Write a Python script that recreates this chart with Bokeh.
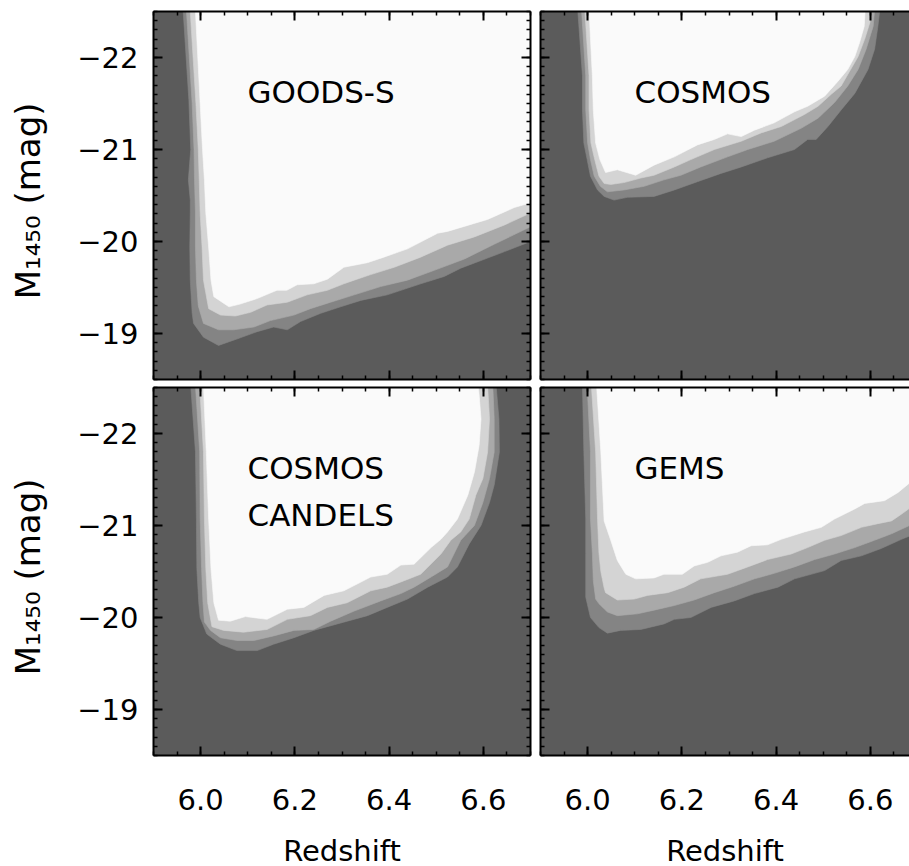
from bokeh.plotting import figure
from bokeh.models import Range1d, FixedTicker, LinearAxis, Label
from bokeh.layouts import row, column
from bokeh.embed import file_html
from bokeh.resources import INLINE

# ---------------- data: completeness contour boundaries (redshift z, M1450) ----------------
# level 1 = outermost (dark | gray), level 4 = innermost (light gray | white)
GOODS_S_Z1 = [5.963, 5.975, 5.979, 5.974, 5.978, 5.978, 5.977, 5.978, 5.982, 5.985, 6.006, 6.038, 6.077, 6.120, 6.155, 6.184, 6.212, 6.255, 6.297, 6.340, 6.396, 6.467, 6.517, 6.552, 6.609, 6.645, 6.700]
GOODS_S_M1 = [-22.50, -21.54, -21.00, -20.67, -20.45, -20.31, -19.94, -19.58, -19.22, -19.11, -18.96, -18.87, -18.94, -19.02, -19.07, -19.04, -19.13, -19.22, -19.29, -19.36, -19.42, -19.54, -19.62, -19.71, -19.82, -19.89, -20.00]
GOODS_S_Z2 = [5.970, 5.982, 5.986, 5.987, 5.989, 5.989, 5.991, 5.995, 6.006, 6.038, 6.070, 6.113, 6.148, 6.198, 6.233, 6.276, 6.326, 6.382, 6.439, 6.503, 6.560, 6.623, 6.700]
GOODS_S_M2 = [-22.50, -21.50, -21.00, -20.67, -20.31, -19.94, -19.58, -19.30, -19.11, -19.04, -19.04, -19.07, -19.14, -19.20, -19.27, -19.34, -19.42, -19.51, -19.58, -19.70, -19.81, -19.97, -20.16]
GOODS_S_Z3 = [5.978, 5.990, 5.995, 5.997, 5.999, 6.003, 6.006, 6.017, 6.042, 6.074, 6.106, 6.141, 6.184, 6.226, 6.269, 6.304, 6.326, 6.361, 6.411, 6.467, 6.524, 6.581, 6.645, 6.700]
GOODS_S_M3 = [-22.50, -21.50, -21.00, -20.67, -20.31, -19.94, -19.58, -19.27, -19.20, -19.19, -19.23, -19.31, -19.34, -19.42, -19.47, -19.54, -19.58, -19.64, -19.72, -19.83, -19.96, -20.05, -20.18, -20.31]
GOODS_S_Z4 = [5.989, 5.999, 6.004, 6.008, 6.011, 6.017, 6.022, 6.028, 6.060, 6.084, 6.120, 6.162, 6.183, 6.205, 6.240, 6.269, 6.304, 6.354, 6.389, 6.439, 6.503, 6.524, 6.609, 6.666, 6.700]
GOODS_S_M4 = [-22.50, -21.50, -21.00, -20.67, -20.31, -19.94, -19.58, -19.40, -19.29, -19.32, -19.38, -19.47, -19.47, -19.53, -19.54, -19.59, -19.72, -19.77, -19.83, -19.92, -20.09, -20.11, -20.24, -20.37, -20.42]

COSMOS_Z1 = [5.979, 5.989, 5.989, 5.992, 5.999, 6.006, 6.021, 6.035, 6.056, 6.084, 6.141, 6.184, 6.233, 6.283, 6.326, 6.382, 6.439, 6.467, 6.485, 6.510, 6.538, 6.567, 6.595, 6.609, 6.616, 6.620]
COSMOS_M1 = [-22.52, -21.80, -21.43, -21.07, -20.89, -20.71, -20.56, -20.49, -20.45, -20.48, -20.49, -20.56, -20.65, -20.74, -20.81, -20.91, -21.00, -21.11, -21.11, -21.25, -21.43, -21.61, -21.87, -22.09, -22.34, -22.52]
COSMOS_Z2 = [5.987, 5.996, 5.996, 6.000, 6.006, 6.014, 6.027, 6.042, 6.077, 6.120, 6.162, 6.198, 6.240, 6.297, 6.340, 6.396, 6.453, 6.489, 6.524, 6.552, 6.574, 6.591, 6.606, 6.609]
COSMOS_M2 = [-22.52, -21.80, -21.43, -21.07, -20.89, -20.71, -20.60, -20.54, -20.56, -20.60, -20.67, -20.72, -20.81, -20.92, -21.00, -21.09, -21.23, -21.34, -21.51, -21.69, -21.87, -22.09, -22.34, -22.52]
COSMOS_Z3 = [5.994, 6.003, 6.003, 6.007, 6.015, 6.024, 6.035, 6.049, 6.077, 6.113, 6.141, 6.184, 6.219, 6.269, 6.326, 6.368, 6.411, 6.460, 6.489, 6.517, 6.538, 6.556, 6.574, 6.588, 6.599, 6.602]
COSMOS_M3 = [-22.52, -21.80, -21.43, -21.07, -20.89, -20.71, -20.63, -20.62, -20.64, -20.69, -20.72, -20.81, -20.89, -21.00, -21.09, -21.18, -21.25, -21.38, -21.47, -21.60, -21.69, -21.85, -22.01, -22.20, -22.38, -22.52]
COSMOS_Z4 = [6.003, 6.010, 6.012, 6.017, 6.026, 6.038, 6.063, 6.102, 6.141, 6.184, 6.233, 6.269, 6.297, 6.326, 6.354, 6.396, 6.439, 6.467, 6.503, 6.531, 6.552, 6.567, 6.577, 6.587, 6.589]
COSMOS_M4 = [-22.52, -21.80, -21.43, -21.07, -20.89, -20.75, -20.78, -20.72, -20.83, -20.92, -21.05, -21.11, -21.17, -21.14, -21.21, -21.29, -21.41, -21.47, -21.58, -21.74, -21.87, -22.01, -22.16, -22.34, -22.52]

CANDELS_Z1 = [5.979, 5.989, 5.991, 5.992, 5.996, 5.999, 6.013, 6.042, 6.077, 6.120, 6.155, 6.198, 6.240, 6.290, 6.354, 6.396, 6.439, 6.482, 6.524, 6.545, 6.570, 6.595, 6.613, 6.623, 6.634, 6.633, 6.627]
CANDELS_M1 = [-22.52, -21.80, -21.07, -20.53, -20.16, -20.00, -19.82, -19.71, -19.64, -19.64, -19.71, -19.78, -19.86, -19.93, -20.02, -20.11, -20.20, -20.33, -20.44, -20.55, -20.80, -21.00, -21.25, -21.44, -21.80, -22.16, -22.52]
CANDELS_Z2 = [5.989, 5.998, 5.999, 6.002, 6.005, 6.008, 6.021, 6.042, 6.077, 6.113, 6.155, 6.198, 6.240, 6.276, 6.326, 6.382, 6.425, 6.453, 6.489, 6.524, 6.552, 6.581, 6.599, 6.613, 6.623, 6.623, 6.620]
CANDELS_M2 = [-22.52, -21.80, -21.07, -20.53, -20.16, -19.95, -19.86, -19.78, -19.75, -19.75, -19.80, -19.86, -19.87, -19.96, -20.07, -20.18, -20.26, -20.33, -20.44, -20.55, -20.84, -21.00, -21.25, -21.51, -21.80, -22.16, -22.52]
CANDELS_Z3 = [5.998, 6.006, 6.008, 6.011, 6.015, 6.024, 6.049, 6.091, 6.141, 6.184, 6.233, 6.269, 6.311, 6.361, 6.396, 6.432, 6.467, 6.510, 6.531, 6.552, 6.570, 6.584, 6.599, 6.609, 6.613, 6.609]
CANDELS_M3 = [-22.52, -21.80, -21.07, -20.53, -20.16, -19.90, -19.86, -19.84, -19.87, -19.98, -20.02, -20.11, -20.16, -20.29, -20.33, -20.40, -20.47, -20.69, -20.84, -20.93, -21.07, -21.33, -21.51, -21.80, -22.16, -22.52]
CANDELS_Z4 = [6.006, 6.012, 6.017, 6.022, 6.028, 6.038, 6.063, 6.095, 6.141, 6.184, 6.219, 6.262, 6.304, 6.361, 6.396, 6.425, 6.453, 6.489, 6.510, 6.524, 6.545, 6.567, 6.581, 6.591, 6.595, 6.591, 6.589]
CANDELS_M4 = [-22.52, -21.80, -21.07, -20.53, -20.16, -19.97, -19.96, -20.01, -19.98, -20.09, -20.11, -20.24, -20.29, -20.44, -20.47, -20.57, -20.58, -20.76, -20.85, -20.93, -21.07, -21.33, -21.58, -21.87, -22.16, -22.42, -22.52]

GEMS_Z1 = [5.989, 5.992, 5.996, 5.996, 5.996, 6.006, 6.024, 6.042, 6.070, 6.113, 6.162, 6.184, 6.219, 6.262, 6.311, 6.354, 6.404, 6.439, 6.503, 6.538, 6.581, 6.623, 6.666, 6.700]
GEMS_M1 = [-22.52, -21.80, -21.07, -20.70, -20.22, -20.00, -19.89, -19.83, -19.86, -19.87, -19.93, -19.98, -20.00, -20.11, -20.18, -20.26, -20.33, -20.42, -20.51, -20.62, -20.67, -20.75, -20.85, -20.92]
GEMS_Z2 = [5.999, 6.006, 6.006, 6.010, 6.012, 6.017, 6.024, 6.042, 6.063, 6.106, 6.141, 6.184, 6.226, 6.269, 6.311, 6.354, 6.396, 6.439, 6.482, 6.524, 6.567, 6.609, 6.645, 6.700]
GEMS_M2 = [-22.52, -21.80, -21.07, -20.70, -20.40, -20.20, -20.15, -20.06, -20.02, -20.04, -20.08, -20.13, -20.19, -20.27, -20.34, -20.42, -20.48, -20.55, -20.63, -20.69, -20.76, -20.84, -20.91, -21.04]
GEMS_Z3 = [6.008, 6.017, 6.021, 6.024, 6.028, 6.035, 6.038, 6.063, 6.099, 6.127, 6.170, 6.205, 6.240, 6.297, 6.340, 6.382, 6.432, 6.467, 6.503, 6.538, 6.581, 6.616, 6.645, 6.665, 6.700]
GEMS_M3 = [-22.52, -21.80, -21.07, -20.70, -20.50, -20.32, -20.27, -20.19, -20.20, -20.24, -20.27, -20.33, -20.42, -20.47, -20.55, -20.63, -20.69, -20.76, -20.84, -20.89, -20.98, -21.02, -21.05, -21.12, -21.25]
GEMS_Z4 = [6.019, 6.028, 6.035, 6.049, 6.063, 6.081, 6.102, 6.141, 6.162, 6.201, 6.226, 6.255, 6.283, 6.318, 6.347, 6.382, 6.411, 6.460, 6.496, 6.524, 6.567, 6.588, 6.630, 6.659, 6.685, 6.700]
GEMS_M4 = [-22.52, -21.80, -21.05, -20.84, -20.62, -20.47, -20.42, -20.43, -20.47, -20.47, -20.56, -20.60, -20.67, -20.71, -20.78, -20.79, -20.85, -20.93, -20.98, -21.07, -21.18, -21.24, -21.27, -21.36, -21.47, -21.52]

PANEL_LINES = [["GOODS-S"], ["COSMOS"], ["COSMOS", "CANDELS"], ["GEMS"]]
X_TICKS = [6.0, 6.2, 6.4, 6.6]
X_TICK_LABELS = ["6.0", "6.2", "6.4", "6.6"]
Y_TICKS = [-22, -21, -20, -19]
Y_TICK_LABELS = ["\u221222", "\u221221", "\u221220", "\u221219"]
X_LABEL = "Redshift"
Y_LABEL = "M\u2081\u2084\u2085\u2080  (mag)"

PANELS = [
    [(GOODS_S_Z1, GOODS_S_M1), (GOODS_S_Z2, GOODS_S_M2), (GOODS_S_Z3, GOODS_S_M3), (GOODS_S_Z4, GOODS_S_M4)],
    [(COSMOS_Z1, COSMOS_M1), (COSMOS_Z2, COSMOS_M2), (COSMOS_Z3, COSMOS_M3), (COSMOS_Z4, COSMOS_M4)],
    [(CANDELS_Z1, CANDELS_M1), (CANDELS_Z2, CANDELS_M2), (CANDELS_Z3, CANDELS_M3), (CANDELS_Z4, CANDELS_M4)],
    [(GEMS_Z1, GEMS_M1), (GEMS_Z2, GEMS_M2), (GEMS_Z3, GEMS_M3), (GEMS_Z4, GEMS_M4)],
]

# ---------------- style ----------------
FONT = "DejaVu Sans"
BG = "#5b5b5b"
BAND_COLORS = ["#848484", "#a9a9a9", "#d4d4d4", "#fafafa"]
X_START = 5.9
PX_PER_Z = 471.25
FRAME_H = 368
Y_BOTTOM, Y_TOP = -18.5, -22.5
X_MINOR = [round(5.9 + 0.05 * i, 3) for i in range(17)]
Y_MINOR = [round(-22.5 + 0.1 * i, 2) for i in range(41)]


def closed_polygon(zs, ms):
    xs = [zs[0]] + list(zs)
    ys = [-23.0] + list(ms)
    if ms[-1] <= -22.4:
        xs += [zs[-1]]
        ys += [-23.0]
    else:
        xs += [7.0, 7.0]
        ys += [ms[-1], -23.0]
    return xs, ys


def style_axis(ax, ticks, minor, labels, show_labels, title=None):
    ax.ticker = FixedTicker(ticks=ticks, minor_ticks=minor)
    ax.axis_line_color = "black"
    ax.axis_line_width = 2
    ax.major_tick_in = 9
    ax.major_tick_out = 0
    ax.minor_tick_in = 4
    ax.minor_tick_out = 0
    ax.major_tick_line_color = "black"
    ax.major_tick_line_width = 2
    ax.minor_tick_line_color = "black"
    ax.minor_tick_line_width = 1.5
    if show_labels:
        ax.major_label_overrides = {t: l for t, l in zip(ticks, labels)}
        ax.major_label_text_font = FONT
        ax.major_label_text_font_size = "29px"
        ax.major_label_text_color = "black"
    else:
        ax.major_label_text_font_size = "0px"
        ax.major_label_text_color = None
        ax.major_label_text_alpha = 0
        ax.major_label_standoff = 0
    if title:
        ax.axis_label = title
        ax.axis_label_text_font = FONT
        ax.axis_label_text_font_style = "normal"
        ax.axis_label_text_color = "black"


def make_panel(idx):
    col = idx % 2
    rw = idx // 2
    left_col = col == 0
    bottom_row = rw == 1
    fw = 377 if left_col else 369
    p = figure(frame_width=fw, frame_height=FRAME_H,
               x_range=Range1d(X_START, X_START + fw / PX_PER_Z),
               y_range=Range1d(Y_BOTTOM, Y_TOP),
               x_axis_location=None, y_axis_location=None,
               output_backend="svg", toolbar_location=None,
               min_border_left=153 if left_col else 5,
               min_border_right=5 if left_col else 0,
               min_border_top=4 if bottom_row else 11,
               min_border_bottom=111 if bottom_row else 4,
               background_fill_color=BG, border_fill_color="white",
               outline_line_color=None)
    p.grid.visible = False

    for (zs, ms), c in zip(PANELS[idx], BAND_COLORS):
        xs, ys = closed_polygon(zs, ms)
        p.patch(xs, ys, fill_color=c, line_color=c, line_width=0.6)

    # left axis
    la = LinearAxis()
    style_axis(la, Y_TICKS, Y_MINOR, Y_TICK_LABELS, left_col, Y_LABEL if left_col else None)
    if left_col:
        la.major_label_standoff = 15
        la.axis_label_standoff = 26
        la.axis_label_text_font_size = "34px"
    p.add_layout(la, "left")
    # bottom axis
    ba = LinearAxis()
    style_axis(ba, X_TICKS, X_MINOR, X_TICK_LABELS, bottom_row, X_LABEL if bottom_row else None)
    if bottom_row:
        ba.major_label_standoff = 33
        ba.axis_label_standoff = 21
        ba.axis_label_text_font_size = "29px"
    p.add_layout(ba, "below")
    # top axis
    ta = LinearAxis()
    style_axis(ta, X_TICKS, X_MINOR, X_TICK_LABELS, False)
    p.add_layout(ta, "above")
    # right axis (only for left column; the right column is cut by the page edge)
    if left_col:
        ra = LinearAxis()
        style_axis(ra, Y_TICKS, Y_MINOR, Y_TICK_LABELS, False)
        p.add_layout(ra, "right")

    lx = X_START + 94 / PX_PER_Z
    for k, line in enumerate(PANEL_LINES[idx]):
        p.add_layout(Label(x=lx, y=-21.62 + 0.505 * k, text=line, text_font=FONT,
                           text_font_size="31px", text_color="black",
                           text_align="left", text_baseline="middle"))
    return p


panels = [make_panel(i) for i in range(4)]
layout = row(column(panels[0], panels[2]), column(panels[1], panels[3]))

open("out.html", "w").write(file_html(layout, INLINE))
